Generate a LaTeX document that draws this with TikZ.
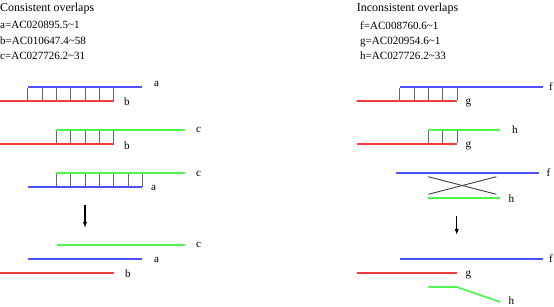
\documentclass[tikz,border=0pt]{standalone}
\usepackage{fontspec}
\setmainfont{Liberation Serif}
\usetikzlibrary{arrows.meta}
\definecolor{seqblue}{RGB}{80,80,255}
\definecolor{seqred}{RGB}{240,60,60}
\definecolor{seqgreen}{RGB}{80,245,80}
\tikzset{
  seqa/.style  ={draw=seqblue, line width=1.7bp},
  seqb/.style  ={draw=seqred, line width=1.7bp},
  seqc/.style  ={draw=seqgreen, line width=1.7bp},
  rung/.style  ={draw=black!60, line width=0.9bp},
  cross/.style ={draw=black!75, line width=0.9bp},
  lbl/.style   ={anchor=west, inner sep=0pt},
  head/.style  ={anchor=west, inner sep=0pt, align=left, font=\fontsize{11.1}{15.3}\selectfont},
  ttl/.style   ={anchor=west, inner sep=0pt, font=\fontsize{12}{14}\selectfont},
  arr/.style   ={-{Latex[length=2.2mm,width=1.6mm]}, line width=1.2pt},
}
\begin{document}
\begin{tikzpicture}[x=1bp, y=-1bp, font=\fontsize{11.2}{15}\selectfont]
  \useasboundingbox (0,0) rectangle (554,306);

  % consistent overlaps
  \node[ttl] (titleL) at (0,8.5) {Consistent overlaps};
  \node[head] (keyL) at (0,40.5) {a=AC020895.5\char`~1\\b=AC010647.4\char`~58\\c=AC027726.2\char`~31};

  \foreach \x in {27.7,42,56.3,70.7,85,99.3,113.7} \draw[rung] (\x,88) -- (\x,100);
  \draw[seqa] (28,87) -- (142,87);
  \draw[seqb] (0,101) -- (114,101);
  \node[lbl] (a1) at (154,84) {a};
  \node[lbl] (b1) at (124,102) {b};

  \foreach \x in {56.3,70.7,85,99.3,113.7} \draw[rung] (\x,131) -- (\x,143);
  \draw[seqc] (56.3,130) -- (185,130);
  \draw[seqb] (0,144) -- (114,144);
  \node[lbl] (c2) at (196,130) {c};
  \node[lbl] (b2) at (124,146) {b};

  \foreach \x in {56.3,70.7,85,99.3,113.7,128,142.3} \draw[rung] (\x,174) -- (\x,186.5);
  \draw[seqc] (56.3,173) -- (185,173);
  \draw[seqa] (28,187.3) -- (142,187.3);
  \node[lbl] (c3) at (196,174) {c};
  \node[lbl] (a3) at (151,188) {a};

  \coordinate (arrLtop) at (85,205);
  \coordinate (arrLbot) at (85,228);
  \draw[arr] (arrLtop) -- (arrLbot);

  \draw[seqc] (56.7,244.7) -- (185,244.7);
  \draw[seqa] (28,258.7) -- (142,258.7);
  \draw[seqb] (0,273) -- (114,273);
  \node[lbl] (c4) at (196,245) {c};
  \node[lbl] (a4) at (154,259.5) {a};
  \node[lbl] (b4) at (125,274) {b};

  % inconsistent overlaps
  \node[ttl] (titleR) at (356.7,8.5) {Inconsistent overlaps};
  \node[head] (keyR) at (360,40.5) {f=AC008760.6\char`~1\\g=AC020954.6\char`~1\\h=AC027726.2\char`~33};

  \foreach \x in {399.7,414,428.3,442.7,457} \draw[rung] (\x,88) -- (\x,100);
  \draw[seqa] (399.7,87) -- (542.7,87);
  \draw[seqb] (356.7,101) -- (457,101);
  \node[lbl] (f1) at (549,87) {f};
  \node[lbl] (g1) at (465.5,103) {g};

  \foreach \x in {428.3,442.7,457} \draw[rung] (\x,131) -- (\x,143);
  \draw[seqc] (428.3,130) -- (500.3,130);
  \draw[seqb] (356.7,144) -- (457,144);
  \node[lbl] (h2) at (512,130) {h};
  \node[lbl] (g2) at (465.5,146) {g};

  \draw[cross] (428.3,176.7) -- (496.3,194.3);
  \draw[cross] (428.3,194.3) -- (496.3,176.7);
  \draw[seqa] (396.3,173) -- (539.3,173);
  \draw[seqc] (428.3,198.3) -- (500.3,198.3);
  \node[lbl] (f3) at (546.5,173) {f};
  \node[lbl] (h3) at (508.5,198.3) {h};

  \coordinate (arrRtop) at (456.7,216);
  \coordinate (arrRbot) at (456.7,235);
  \draw[arr] (arrRtop) -- (arrRbot);

  \draw[seqa] (399.7,258.7) -- (542.7,258.7);
  \draw[seqb] (356.7,273) -- (457,273);
  \draw[seqc] (428.3,287) -- (457,287) -- (500.3,302);
  \node[lbl] (f4) at (549,259) {f};
  \node[lbl] (g4) at (465.5,275) {g};
  \node[lbl] (h4) at (508.5,301) {h};
\end{tikzpicture}
\end{document}
